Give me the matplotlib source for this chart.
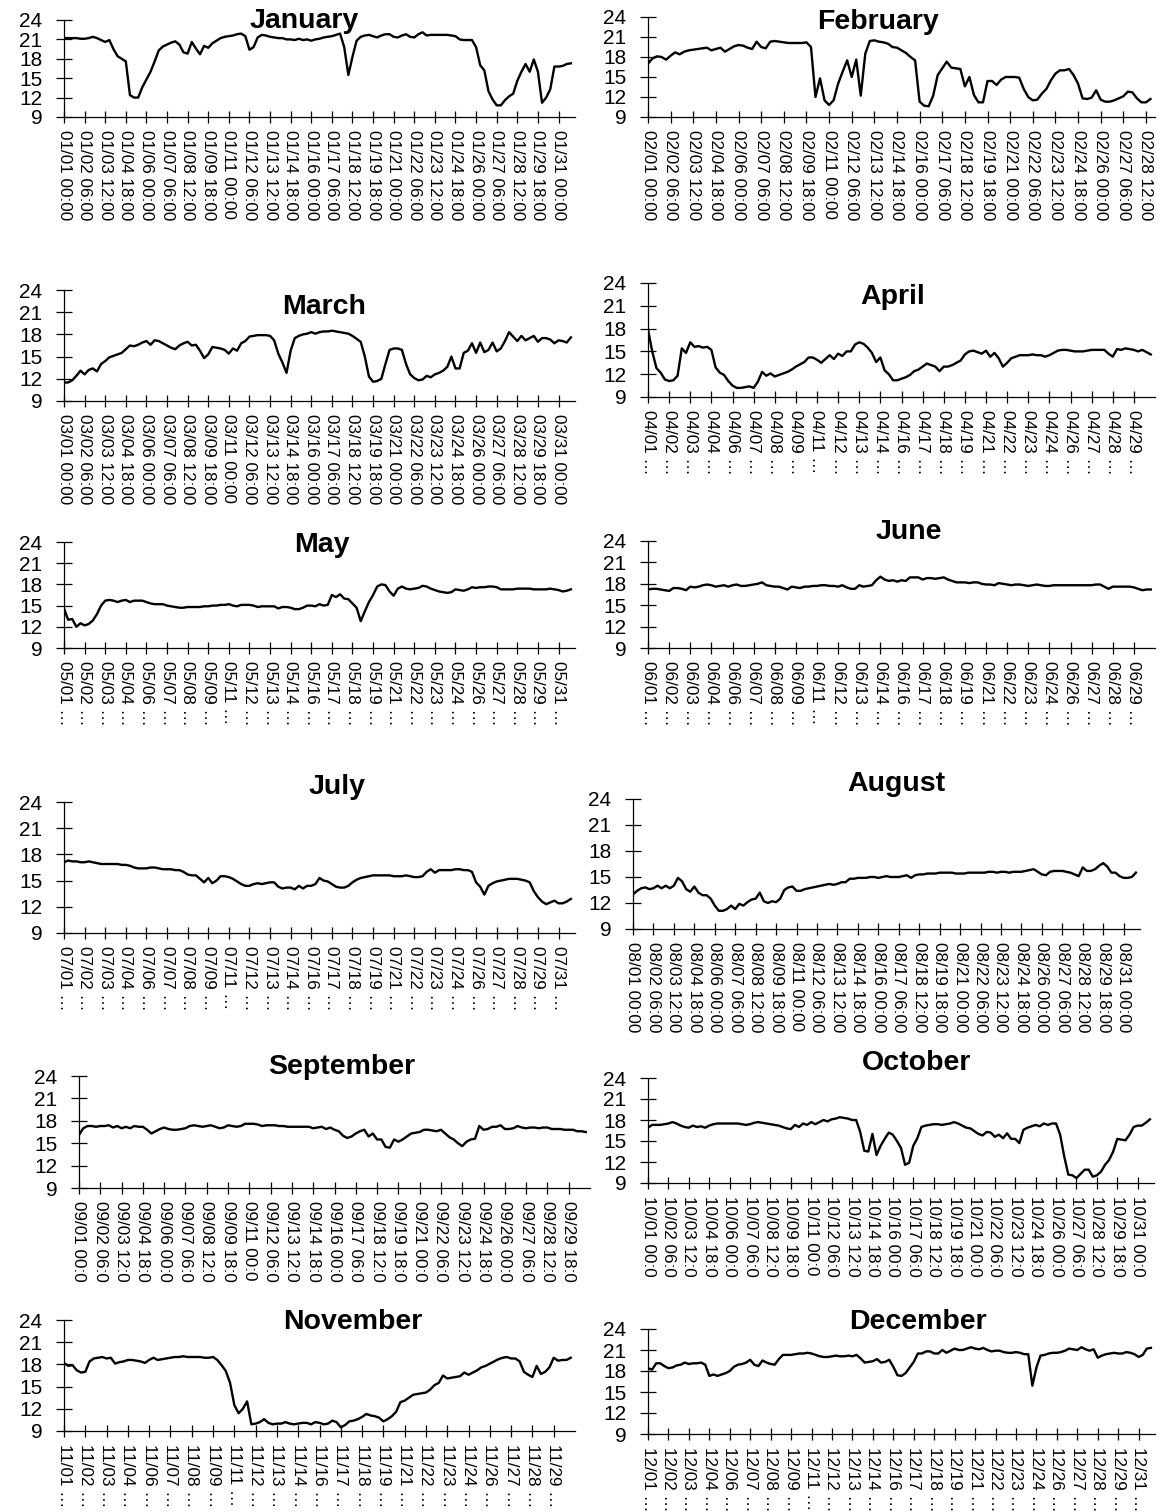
import matplotlib
matplotlib.use("Agg")
import matplotlib.pyplot as plt
from matplotlib import font_manager

# Lecturas cada 6 horas (00, 06, 12, 18 h) de cada dia del mes
enero = [21.2, 21.2, 21.2, 21.2, 21.1, 21.1, 21.2, 21.4, 21.2, 20.9,
         20.6, 20.9, 19.5, 18.4, 18.0, 17.6, 12.4, 12.0, 12.0, 13.6,
         14.8, 16.0, 17.6, 19.3, 19.9, 20.2, 20.5, 20.7, 20.2, 19.0,
         18.8, 20.6, 19.6, 18.7, 20.0, 19.7, 20.4, 20.8, 21.2, 21.4,
         21.5, 21.6, 21.8, 21.9, 21.5, 19.4, 19.8, 21.3, 21.7, 21.6,
         21.4, 21.3, 21.2, 21.2, 21.0, 21.0, 20.9, 21.1, 20.9, 21.0,
         20.8, 21.0, 21.1, 21.3, 21.4, 21.5, 21.7, 21.9, 19.8, 15.5,
         18.3, 20.8, 21.4, 21.6, 21.7, 21.5, 21.3, 21.6, 21.8, 21.8,
         21.4, 21.3, 21.6, 21.8, 21.4, 21.3, 21.8, 22.1, 21.6, 21.7,
         21.7, 21.7, 21.7, 21.7, 21.6, 21.5, 21.0, 20.9, 20.9, 20.9,
         19.8, 17.0, 16.2, 13.0, 11.7, 10.8, 10.8, 11.6, 12.2, 12.6,
         14.6, 16.0, 17.2, 16.0, 17.9, 16.0, 11.2, 12.0, 13.3, 16.8,
         16.8, 16.9, 17.2, 17.3]
febrero = [17.0, 17.8, 18.1, 18.0, 17.6, 18.2, 18.7, 18.4, 18.8, 19.0,
           19.1, 19.2, 19.3, 19.4, 19.0, 19.2, 19.4, 18.8, 19.2, 19.6,
           19.8, 19.7, 19.4, 19.2, 20.3, 19.5, 19.3, 20.3, 20.4, 20.3,
           20.2, 20.1, 20.1, 20.1, 20.1, 20.2, 19.5, 12.0, 14.8, 11.5,
           10.8, 11.5, 14.0, 15.8, 17.5, 15.0, 17.6, 12.2, 18.5, 20.4,
           20.5, 20.3, 20.2, 20.0, 19.5, 19.4, 19.0, 18.6, 18.0, 17.5,
           11.3, 10.7, 10.6, 12.2, 15.3, 16.3, 17.3, 16.4, 16.3, 16.2,
           13.6, 15.0, 12.3, 11.2, 11.2, 14.4, 14.4, 13.8, 14.6, 15.0,
           15.0, 15.0, 14.9, 13.2, 12.0, 11.5, 11.6, 12.5, 13.2, 14.5,
           15.5, 16.0, 16.0, 16.2, 15.3, 14.0, 11.8, 11.7, 11.9, 13.0,
           11.6, 11.3, 11.3, 11.5, 11.8, 12.1, 12.8, 12.7, 11.8, 11.2,
           11.2, 11.7]
marzo = [11.5, 11.5, 11.8, 12.4, 13.1, 12.6, 13.2, 13.4, 13.0, 14.0,
         14.4, 14.9, 15.1, 15.3, 15.5, 16.0, 16.5, 16.4, 16.6, 16.9,
         17.1, 16.6, 17.2, 17.1, 16.8, 16.5, 16.2, 16.0, 16.5, 16.8,
         17.0, 16.5, 16.6, 15.8, 14.8, 15.3, 16.3, 16.2, 16.1, 15.9,
         15.4, 16.1, 15.8, 16.8, 17.1, 17.7, 17.8, 17.9, 17.9, 17.9,
         17.8, 17.2, 15.4, 14.2, 12.8, 15.8, 17.5, 17.8, 18.0, 18.1,
         18.3, 18.1, 18.3, 18.4, 18.4, 18.5, 18.4, 18.3, 18.2, 18.1,
         17.8, 17.4, 17.0, 15.0, 12.3, 11.6, 11.7, 12.0, 14.0, 15.9,
         16.1, 16.1, 15.9, 14.0, 12.6, 12.1, 11.8, 11.9, 12.4, 12.2,
         12.6, 12.8, 13.1, 13.6, 15.0, 13.4, 13.4, 15.5, 15.8, 16.8,
         15.5, 16.9, 15.6, 15.9, 16.9, 15.7, 16.1, 17.1, 18.3, 17.7,
         17.1, 17.8, 17.2, 17.5, 17.8, 17.0, 17.5, 17.5, 17.3, 16.8,
         17.2, 17.1, 16.9, 17.6]
abril = [17.9, 15.0, 12.8, 12.2, 11.3, 11.1, 11.2, 11.8, 15.4, 14.8,
         16.2, 15.6, 15.7, 15.5, 15.6, 15.2, 12.9, 12.2, 11.9, 11.1,
         10.5, 10.2, 10.2, 10.3, 10.4, 10.2, 11.0, 12.3, 11.8, 12.1,
         11.7, 11.9, 12.1, 12.3, 12.6, 13.0, 13.3, 13.6, 14.2, 14.2,
         13.9, 13.5, 14.0, 14.5, 14.0, 14.7, 14.4, 15.0, 15.0, 15.9,
         16.2, 16.0, 15.5, 14.8, 13.6, 14.2, 12.5, 12.0, 11.2, 11.2,
         11.4, 11.6, 11.9, 12.4, 12.6, 13.0, 13.4, 13.2, 13.0, 12.4,
         13.0, 13.0, 13.2, 13.5, 13.8, 14.6, 15.0, 15.1, 14.9, 14.7,
         15.1, 14.3, 14.8, 14.1, 13.0, 13.5, 14.1, 14.3, 14.5, 14.5,
         14.5, 14.6, 14.5, 14.5, 14.3, 14.5, 14.8, 15.1, 15.2, 15.2,
         15.1, 15.0, 15.0, 15.0, 15.1, 15.2, 15.2, 15.2, 15.2, 14.7,
         14.3, 15.3, 15.2, 15.4, 15.3, 15.2, 15.0, 15.2, 14.9, 14.6]
mayo = [14.6, 13.0, 13.1, 12.0, 12.5, 12.2, 12.4, 12.9, 13.8, 15.0,
        15.7, 15.8, 15.7, 15.5, 15.7, 15.8, 15.5, 15.7, 15.7, 15.7,
        15.5, 15.3, 15.2, 15.2, 15.2, 15.0, 14.9, 14.8, 14.7, 14.7,
        14.8, 14.8, 14.8, 14.8, 14.9, 14.9, 15.0, 15.0, 15.1, 15.1,
        15.2, 15.0, 14.9, 15.1, 15.1, 15.1, 15.0, 14.8, 14.9, 14.9,
        14.9, 14.9, 14.6, 14.8, 14.8, 14.7, 14.5, 14.5, 14.7, 15.0,
        15.0, 14.9, 15.2, 15.0, 15.1, 16.5, 16.2, 16.6, 16.0, 15.9,
        15.3, 14.7, 12.8, 14.2, 15.5, 16.5, 17.7, 18.0, 17.9, 17.0,
        16.4, 17.4, 17.7, 17.4, 17.3, 17.4, 17.5, 17.8, 17.7, 17.4,
        17.2, 17.0, 16.9, 16.8, 16.9, 17.3, 17.2, 17.1, 17.3, 17.6,
        17.5, 17.6, 17.6, 17.7, 17.7, 17.6, 17.3, 17.3, 17.3, 17.3,
        17.4, 17.4, 17.4, 17.4, 17.3, 17.3, 17.3, 17.3, 17.4, 17.3,
        17.2, 17.0, 17.1, 17.3]
junio = [17.2, 17.3, 17.3, 17.2, 17.1, 17.0, 17.4, 17.4, 17.3, 17.1,
         17.6, 17.5, 17.6, 17.8, 17.9, 17.8, 17.6, 17.7, 17.8, 17.6,
         17.8, 17.9, 17.7, 17.7, 17.8, 17.9, 18.0, 18.2, 17.8, 17.7,
         17.6, 17.6, 17.4, 17.2, 17.6, 17.5, 17.4, 17.6, 17.6, 17.7,
         17.7, 17.8, 17.8, 17.7, 17.7, 17.6, 17.8, 17.5, 17.3, 17.3,
         17.8, 17.6, 17.7, 17.8, 18.5, 19.0, 18.6, 18.4, 18.5, 18.3,
         18.5, 18.4, 18.9, 18.9, 18.9, 18.6, 18.8, 18.8, 18.7, 18.8,
         18.9, 18.6, 18.4, 18.2, 18.2, 18.2, 18.1, 18.2, 18.2, 18.0,
         17.9, 17.9, 17.8, 18.1, 18.0, 17.9, 17.8, 17.9, 17.9, 17.8,
         17.7, 17.8, 17.9, 17.8, 17.7, 17.7, 17.8, 17.8, 17.8, 17.8,
         17.8, 17.8, 17.8, 17.8, 17.8, 17.8, 17.9, 17.9, 17.6, 17.3,
         17.6, 17.6, 17.6, 17.6, 17.6, 17.5, 17.3, 17.1, 17.2, 17.2]
julio = [17.1, 17.3, 17.2, 17.2, 17.1, 17.1, 17.2, 17.1, 17.0, 16.9,
         16.9, 16.9, 16.9, 16.9, 16.8, 16.8, 16.7, 16.5, 16.4, 16.4,
         16.4, 16.5, 16.5, 16.4, 16.3, 16.3, 16.3, 16.2, 16.2, 16.0,
         15.7, 15.6, 15.6, 15.2, 14.8, 15.3, 14.7, 15.0, 15.5, 15.5,
         15.4, 15.2, 14.9, 14.6, 14.4, 14.4, 14.6, 14.7, 14.6, 14.7,
         14.8, 14.8, 14.3, 14.1, 14.2, 14.2, 14.0, 14.4, 14.1, 14.4,
         14.4, 14.6, 15.3, 15.0, 14.9, 14.6, 14.3, 14.2, 14.2, 14.4,
         14.8, 15.1, 15.3, 15.4, 15.5, 15.6, 15.6, 15.6, 15.6, 15.6,
         15.5, 15.5, 15.5, 15.6, 15.5, 15.4, 15.4, 15.5, 16.0, 16.3,
         15.9, 16.2, 16.2, 16.2, 16.2, 16.3, 16.3, 16.2, 16.2, 16.0,
         14.8, 14.3, 13.4, 14.4, 14.7, 14.9, 15.0, 15.1, 15.2, 15.2,
         15.2, 15.1, 15.0, 14.8, 13.8, 13.1, 12.6, 12.3, 12.5, 12.7,
         12.4, 12.4, 12.6, 12.9]
agosto = [13.0, 13.4, 13.7, 13.8, 13.6, 13.7, 14.0, 13.7, 14.0, 13.7,
          14.0, 14.9, 14.5, 13.6, 13.3, 13.9, 13.2, 12.9, 12.9, 12.5,
          11.7, 11.1, 11.1, 11.3, 11.7, 11.3, 11.9, 11.7, 12.1, 12.4,
          12.5, 13.2, 12.2, 12.0, 12.2, 12.1, 12.5, 13.5, 13.8, 13.9,
          13.4, 13.4, 13.6, 13.7, 13.8, 13.9, 14.0, 14.1, 14.2, 14.1,
          14.2, 14.4, 14.4, 14.8, 14.8, 14.9, 14.9, 14.9, 15.0, 15.0,
          14.9, 15.0, 15.1, 15.0, 15.0, 15.0, 15.1, 15.2, 14.9, 15.2,
          15.3, 15.3, 15.4, 15.4, 15.4, 15.5, 15.5, 15.5, 15.5, 15.4,
          15.4, 15.4, 15.5, 15.5, 15.5, 15.5, 15.5, 15.6, 15.6, 15.5,
          15.6, 15.6, 15.5, 15.6, 15.6, 15.6, 15.7, 15.8, 15.9, 15.6,
          15.3, 15.2, 15.6, 15.7, 15.7, 15.7, 15.6, 15.5, 15.3, 15.1,
          16.1, 15.7, 15.7, 15.9, 16.3, 16.6, 16.2, 15.5, 15.5, 15.1,
          14.9, 14.9, 15.0, 15.5]
septiembre = [16.1, 17.0, 17.3, 17.3, 17.2, 17.3, 17.3, 17.4, 17.1, 17.3,
              17.0, 17.2, 17.0, 17.3, 17.2, 17.2, 16.8, 16.3, 16.6, 16.9,
              17.1, 16.9, 16.8, 16.8, 16.9, 17.0, 17.3, 17.4, 17.3, 17.2,
              17.3, 17.4, 17.2, 17.0, 17.1, 17.4, 17.3, 17.2, 17.3, 17.6,
              17.6, 17.6, 17.5, 17.3, 17.4, 17.4, 17.4, 17.3, 17.3, 17.2,
              17.2, 17.2, 17.2, 17.2, 17.2, 17.0, 17.1, 17.2, 16.9, 17.1,
              16.8, 16.6, 16.0, 15.7, 15.9, 16.3, 16.6, 16.8, 15.9, 16.3,
              15.5, 15.5, 14.5, 14.4, 15.5, 15.2, 15.5, 15.9, 16.3, 16.4,
              16.5, 16.8, 16.8, 16.7, 16.6, 16.8, 16.3, 15.8, 15.5, 15.0,
              14.6, 15.2, 15.5, 15.6, 17.3, 16.8, 16.9, 17.2, 17.2, 17.4,
              16.9, 16.9, 17.0, 17.3, 17.1, 17.0, 17.1, 17.1, 17.0, 17.1,
              17.1, 16.9, 16.9, 16.9, 16.8, 16.8, 16.8, 16.6, 16.6, 16.5]
octubre = [16.9, 17.3, 17.3, 17.3, 17.4, 17.5, 17.7, 17.5, 17.2, 17.0,
           16.9, 17.2, 17.0, 17.1, 16.9, 17.2, 17.4, 17.5, 17.5, 17.5,
           17.5, 17.5, 17.5, 17.4, 17.3, 17.4, 17.6, 17.7, 17.6, 17.5,
           17.4, 17.3, 17.2, 17.0, 16.8, 16.7, 17.3, 17.0, 17.5, 17.3,
           17.7, 17.4, 17.7, 18.0, 17.8, 18.1, 18.2, 18.4, 18.3, 18.2,
           18.0, 18.0, 16.3, 13.6, 13.5, 16.0, 13.0, 14.3, 15.3, 16.2,
           15.9, 15.0, 14.0, 11.6, 11.9, 14.3, 15.4, 17.0, 17.2, 17.3,
           17.4, 17.4, 17.3, 17.4, 17.5, 17.7, 17.5, 17.2, 16.9, 16.8,
           16.4, 16.0, 15.8, 16.3, 16.2, 15.6, 15.9, 15.4, 16.1, 15.3,
           15.3, 14.7, 16.6, 16.9, 17.1, 17.3, 17.1, 17.5, 17.3, 17.5,
           17.5, 15.9, 12.8, 10.2, 10.1, 9.7, 10.3, 10.9, 10.9, 9.9,
           10.1, 10.6, 11.6, 12.3, 13.5, 15.3, 15.2, 15.1, 15.9, 17.0,
           17.2, 17.2, 17.6, 18.1]
noviembre = [18.2, 17.8, 17.9, 17.2, 16.9, 17.0, 18.4, 18.8, 18.9, 19.0,
             18.8, 18.9, 18.1, 18.3, 18.4, 18.6, 18.6, 18.5, 18.4, 18.2,
             18.6, 18.9, 18.6, 18.7, 18.8, 18.9, 19.0, 19.0, 19.1, 19.0,
             19.0, 19.0, 19.0, 18.9, 18.9, 19.0, 18.6, 17.9, 17.1, 15.5,
             12.5, 11.4, 12.0, 13.0, 9.9, 10.0, 10.2, 10.6, 10.1, 9.9,
             10.0, 10.0, 10.2, 10.0, 9.9, 10.0, 10.1, 10.1, 9.9, 10.2,
             10.1, 9.9, 10.0, 10.4, 10.2, 9.5, 9.8, 10.3, 10.4, 10.6,
             10.9, 11.3, 11.1, 11.0, 10.8, 10.3, 10.6, 11.0, 11.6, 12.9,
             13.1, 13.5, 13.9, 14.0, 14.1, 14.2, 14.6, 15.2, 15.5, 16.5,
             16.1, 16.2, 16.3, 16.4, 16.9, 16.6, 16.9, 17.2, 17.6, 17.8,
             18.1, 18.4, 18.7, 18.9, 19.0, 18.8, 18.8, 18.4, 17.0, 16.6,
             16.3, 17.8, 16.7, 17.0, 17.6, 18.9, 18.5, 18.6, 18.6, 18.9]
diciembre = [18.4, 18.2, 19.1, 19.1, 18.7, 18.4, 18.5, 18.8, 18.9, 19.2,
             19.0, 19.1, 19.1, 19.2, 18.9, 17.3, 17.5, 17.3, 17.5, 17.7,
             18.0, 18.6, 18.9, 19.0, 19.2, 19.6, 18.9, 18.7, 19.5, 19.2,
             19.0, 18.9, 19.7, 20.3, 20.3, 20.3, 20.4, 20.5, 20.5, 20.6,
             20.5, 20.3, 20.1, 20.0, 20.0, 20.1, 20.2, 20.1, 20.1, 20.2,
             20.1, 20.3, 19.8, 19.2, 19.3, 19.4, 19.7, 19.2, 19.3, 19.6,
             18.6, 17.4, 17.3, 17.7, 18.5, 19.3, 20.5, 20.5, 20.8, 20.8,
             20.5, 20.5, 21.0, 20.6, 20.9, 21.2, 21.0, 21.0, 21.2, 21.4,
             21.2, 21.1, 21.3, 21.0, 20.8, 20.9, 20.9, 20.7, 20.6, 20.6,
             20.7, 20.6, 20.4, 20.4, 15.9, 18.5, 20.2, 20.3, 20.5, 20.6,
             20.6, 20.7, 20.9, 21.2, 21.1, 21.0, 21.4, 21.1, 20.9, 21.1,
             19.9, 20.2, 20.4, 20.5, 20.6, 20.5, 20.5, 20.7, 20.6, 20.4,
             20.0, 20.3, 21.2, 21.3]

meses = ["January", "February", "March", "April", "May", "June",
         "July", "August", "September", "October", "November", "December"]
dias_mes = [31, 28, 31, 30, 31, 30, 31, 31, 30, 31, 30, 31]
series = [enero, febrero, marzo, abril, mayo, junio,
          julio, agosto, septiembre, octubre, noviembre, diciembre]
# como aparecen recortadas las etiquetas del eje x en cada panel
corte = ["full", "full", "full", "dots", "dots", "dots",
         "dots", "full", "cut", "cut", "dots", "dots"]
y_ticks = [9, 12, 15, 18, 21, 24]

W, H = 1164, 1512
# caja de cada panel en pixeles: izquierda, arriba, derecha, abajo
cajas = [(64, 20, 575, 117), (648, 17, 1155, 117),
         (64, 290, 575, 401), (648, 283, 1155, 397),
         (64, 542, 575, 648), (648, 541, 1155, 648),
         (64, 802, 575, 933), (633, 799, 1140, 929),
         (79, 1076, 590, 1188), (648, 1078, 1154, 1183),
         (64, 1320, 575, 1431), (648, 1329, 1155, 1434)]
# centro de cada titulo en pixeles
pos_titulo = [(304, 21), (878, 22), (324, 307), (893, 297),
              (322, 545), (909, 532), (337, 787), (896, 784),
              (342, 1067), (917, 1063), (353, 1322), (918, 1322)]

instaladas = {f.name for f in font_manager.fontManager.ttflist}
if "Liberation Sans Narrow" in instaladas:
    fuente_y, tam_y = "Liberation Sans Narrow", 15.5
else:
    fuente_y, tam_y = "Liberation Sans", 15


def etiqueta(mes, h, modo):
    txt = f"{mes:02d}/{h // 24 + 1:02d} {h % 24:02d}:00"
    if modo == "dots":
        return txt[:5] + " \u2026"
    if modo == "cut":
        return txt[:10]
    return txt


fig = plt.figure(figsize=(W / 100, H / 100), dpi=100)

for i, (nombre, vals) in enumerate(zip(meses, series)):
    l, t, r, b = cajas[i]
    ax = fig.add_axes([l / W, 1 - b / H, (r - l) / W, (b - t) / H])
    horas = [6 * k for k in range(len(vals))]
    ax.plot(horas, vals, color="black", lw=1.7, solid_joinstyle="round")

    total = dias_mes[i] * 24
    ax.set_xlim(0, total)
    ax.set_ylim(9, 24)
    marcas = list(range(0, total, 30))
    ax.set_xticks(marcas)
    ax.set_xticklabels([etiqueta(i + 1, h, corte[i]) for h in marcas],
                       rotation=-90, family="Liberation Sans", fontsize=12.3)
    ax.set_yticks(y_ticks)
    ax.set_yticklabels([str(v) for v in y_ticks], family=fuente_y,
                       fontsize=tam_y)

    for lado in ("top", "right"):
        ax.spines[lado].set_visible(False)
    for lado in ("left", "bottom"):
        ax.spines[lado].set_linewidth(0.9)
    ax.tick_params(axis="y", direction="inout", length=12, width=0.9,
                   pad=9.5)
    ax.tick_params(axis="x", direction="inout", length=8.4, width=0.9,
                   pad=5)
    ax.patch.set_alpha(0)

    cx, cy = pos_titulo[i]
    fig.text(cx / W, 1 - cy / H, nombre, ha="center", va="center",
             fontsize=20.5, fontweight="bold", family="Liberation Sans")

fig.savefig("out.png", dpi=100)
